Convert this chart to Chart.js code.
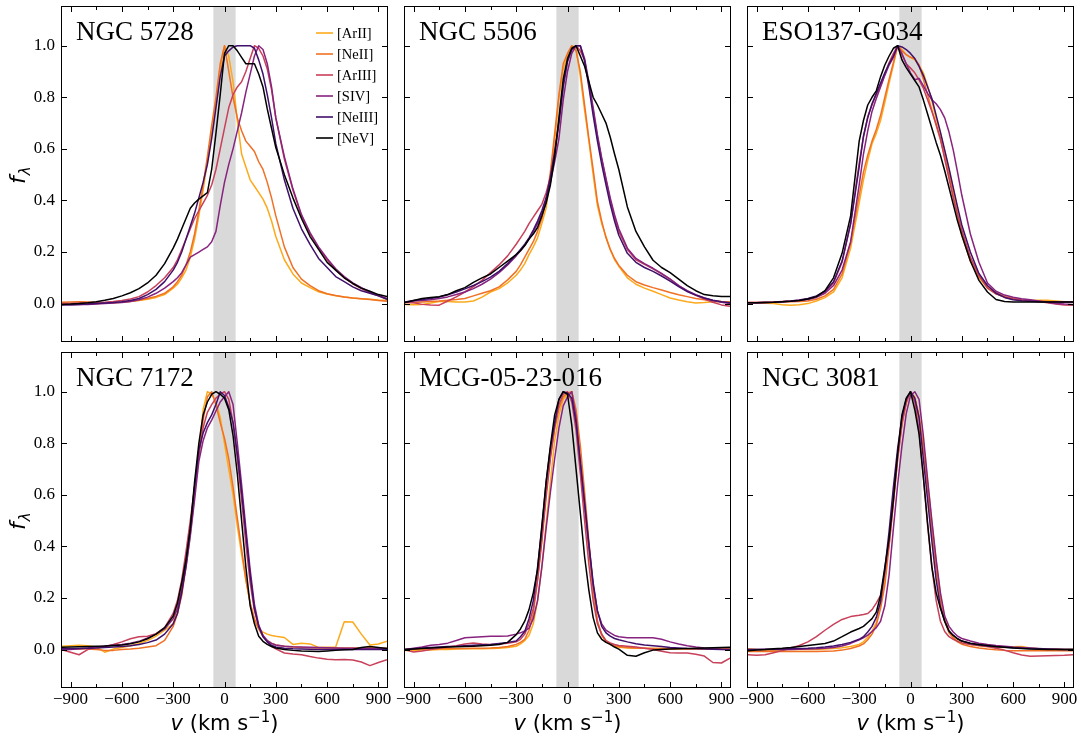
<!DOCTYPE html>
<html>
<head>
<meta charset="utf-8">
<script src="https://cdn.jsdelivr.net/npm/chart.js@4.4.0/dist/chart.umd.min.js"></script>
<style>
body { margin: 0; background: #fff; }
#fig { position: relative; width: 1081px; height: 737px; overflow: hidden; background: #fff; }
#fig canvas { position: absolute; }
</style>
</head>
<body>
<div id="fig"></div>
<script>
// velocity grid (km/s), shared by every panel
const velocity = [
    -950, -900, -850, -800, -750, -700, -650, -600, -550, -500, -450, -400, -350,
    -300, -275, -250, -225, -200, -175, -150, -125, -100, -75, -50, -25, 0, 25, 50, 75, 100, 125, 150, 175, 200, 225, 250, 275, 300,
    350, 400, 450, 500, 550, 600, 650, 700, 750, 800, 850, 900, 950
];

// NGC 5728
const n5728ArII = [
    0.000, -0.002, -0.002, -0.002, 0.000, 0.002, 0.003, 0.005, 0.008, 0.012, 0.017, 0.024, 0.035,
    0.06, 0.075, 0.10, 0.13, 0.18, 0.25, 0.34, 0.44, 0.55, 0.66, 0.77, 0.90, 1.00, 0.96, 0.86, 0.71, 0.58, 0.53, 0.48, 0.455, 0.43, 0.405, 0.37, 0.32, 0.26,
    0.17, 0.115, 0.08, 0.062, 0.046, 0.037, 0.03, 0.026, 0.022, 0.019, 0.017, 0.014, 0.012
];
const n5728NeII = [
    0.005, 0.006, 0.007, 0.006, 0.004, 0.003, 0.004, 0.006, 0.009, 0.013, 0.02, 0.028, 0.04,
    0.065, 0.085, 0.11, 0.15, 0.20, 0.27, 0.36, 0.46, 0.57, 0.69, 0.80, 0.93, 1.00, 0.90, 0.80, 0.72, 0.67, 0.63, 0.61, 0.59, 0.55, 0.52, 0.47, 0.41, 0.34,
    0.22, 0.14, 0.095, 0.07, 0.05, 0.038, 0.031, 0.026, 0.022, 0.019, 0.016, 0.012, 0.009
];
const n5728ArIII = [
    0.000, 0.000, 0.002, 0.002, 0.003, 0.005, 0.008, 0.012, 0.018, 0.027, 0.045, 0.07, 0.10,
    0.14, 0.17, 0.21, 0.25, 0.29, 0.33, 0.36, 0.39, 0.42, 0.46, 0.52, 0.60, 0.68, 0.76, 0.81, 0.84, 0.86, 0.90, 0.95, 1.00, 0.99, 0.96, 0.91, 0.83, 0.72,
    0.56, 0.44, 0.34, 0.27, 0.215, 0.17, 0.13, 0.10, 0.077, 0.058, 0.042, 0.03, 0.018
];
const n5728SIV = [
    -0.004, -0.004, -0.003, -0.003, -0.002, 0.000, 0.002, 0.004, 0.008, 0.015, 0.025, 0.04, 0.06,
    0.085, 0.10, 0.12, 0.15, 0.18, 0.19, 0.20, 0.21, 0.22, 0.24, 0.28, 0.38, 0.47, 0.54, 0.60, 0.67, 0.74, 0.82, 0.89, 0.96, 1.00, 0.985, 0.93, 0.84, 0.72,
    0.57, 0.445, 0.345, 0.275, 0.22, 0.175, 0.135, 0.105, 0.08, 0.062, 0.045, 0.032, 0.02
];
const n5728NeIII = [
    -0.004, -0.004, -0.003, -0.002, 0.000, 0.002, 0.004, 0.007, 0.012, 0.02, 0.035, 0.055, 0.085,
    0.13, 0.16, 0.20, 0.25, 0.30, 0.35, 0.41, 0.47, 0.54, 0.64, 0.76, 0.88, 0.96, 0.98, 0.995, 1.00, 1.00, 1.00, 1.00, 0.99, 0.945, 0.89, 0.81, 0.72, 0.62,
    0.48, 0.37, 0.29, 0.23, 0.175, 0.14, 0.105, 0.085, 0.065, 0.05, 0.04, 0.03, 0.017
];
const n5728NeV = [
    -0.003, -0.002, 0.000, 0.003, 0.007, 0.013, 0.02, 0.03, 0.042, 0.058, 0.08, 0.11, 0.155,
    0.215, 0.25, 0.29, 0.33, 0.37, 0.39, 0.405, 0.418, 0.43, 0.52, 0.66, 0.81, 0.97, 1.00, 1.00, 0.98, 0.955, 0.93, 0.93, 0.93, 0.89, 0.84, 0.755, 0.68, 0.605,
    0.50, 0.41, 0.33, 0.26, 0.21, 0.16, 0.13, 0.10, 0.078, 0.06, 0.048, 0.035, 0.027
];

// NGC 5506
const n5506ArII = [
    -0.003, -0.004, -0.003, 0.002, 0.008, 0.008, 0.006, 0.006, 0.01, 0.025, 0.045, 0.058, 0.08,
    0.11, 0.13, 0.155, 0.19, 0.22, 0.255, 0.31, 0.37, 0.49, 0.63, 0.80, 0.91, 0.96, 1.00, 0.99, 0.88, 0.75, 0.63, 0.50, 0.38, 0.31, 0.26, 0.21, 0.17, 0.145,
    0.10, 0.075, 0.06, 0.048, 0.035, 0.022, 0.014, 0.007, 0.002, 0.004, 0.007, 0.007, 0.006
];
const n5506NeII = [
    0.003, 0.004, 0.006, 0.008, 0.01, 0.013, 0.016, 0.02, 0.03, 0.04, 0.05, 0.065, 0.092,
    0.125, 0.15, 0.18, 0.21, 0.24, 0.28, 0.33, 0.40, 0.51, 0.66, 0.81, 0.93, 0.97, 1.00, 0.98, 0.90, 0.77, 0.64, 0.52, 0.395, 0.32, 0.255, 0.21, 0.175, 0.148,
    0.11, 0.085, 0.072, 0.062, 0.053, 0.043, 0.034, 0.027, 0.02, 0.015, 0.011, 0.008, 0.006
];
const n5506ArIII = [
    0.006, 0.003, -0.003, -0.005, -0.006, 0.01, 0.026, 0.045, 0.066, 0.09, 0.12, 0.15, 0.185,
    0.23, 0.255, 0.28, 0.31, 0.335, 0.36, 0.385, 0.43, 0.49, 0.58, 0.71, 0.85, 0.94, 0.985, 1.00, 0.98, 0.945, 0.85, 0.75, 0.645, 0.56, 0.48, 0.40, 0.335, 0.28,
    0.21, 0.17, 0.152, 0.135, 0.115, 0.095, 0.07, 0.048, 0.032, 0.018, 0.005, -0.005, -0.01
];
const n5506SIV = [
    0.004, 0.01, 0.012, 0.015, 0.02, 0.026, 0.035, 0.045, 0.058, 0.075, 0.095, 0.12, 0.15,
    0.185, 0.205, 0.225, 0.25, 0.28, 0.31, 0.35, 0.40, 0.47, 0.55, 0.64, 0.79, 0.90, 0.97, 1.00, 1.00, 0.95, 0.86, 0.76, 0.655, 0.565, 0.485, 0.41, 0.345, 0.29,
    0.215, 0.175, 0.155, 0.137, 0.117, 0.095, 0.07, 0.05, 0.035, 0.022, 0.012, 0.005, 0.0
];
const n5506NeIII = [
    0.006, 0.012, 0.016, 0.02, 0.026, 0.034, 0.045, 0.057, 0.07, 0.085, 0.103, 0.125, 0.155,
    0.19, 0.21, 0.23, 0.255, 0.285, 0.32, 0.36, 0.41, 0.49, 0.59, 0.70, 0.84, 0.94, 0.985, 1.00, 1.00, 0.94, 0.84, 0.73, 0.63, 0.54, 0.46, 0.385, 0.32, 0.265,
    0.195, 0.16, 0.14, 0.125, 0.107, 0.087, 0.066, 0.047, 0.033, 0.022, 0.013, 0.007, 0.003
];
const n5506NeV = [
    0.004, 0.012, 0.02, 0.024, 0.027, 0.035, 0.05, 0.062, 0.082, 0.10, 0.115, 0.14, 0.165,
    0.19, 0.205, 0.225, 0.25, 0.27, 0.295, 0.34, 0.39, 0.46, 0.57, 0.72, 0.87, 0.95, 0.99, 1.00, 0.96, 0.92, 0.86, 0.80, 0.77, 0.735, 0.70, 0.645, 0.58, 0.52,
    0.375, 0.28, 0.22, 0.168, 0.14, 0.12, 0.095, 0.07, 0.05, 0.035, 0.03, 0.028, 0.028
];

// ESO137-G034
const esoArII = [
    0.003, 0.002, 0.001, 0.0, -0.004, -0.006, -0.004, 0.0, 0.01, 0.023, 0.045, 0.10, 0.215,
    0.39, 0.48, 0.555, 0.62, 0.66, 0.71, 0.78, 0.855, 0.925, 1.00, 0.985, 0.965, 0.955, 0.945, 0.925, 0.895, 0.845, 0.785, 0.715, 0.66, 0.59, 0.515, 0.44, 0.36, 0.28,
    0.17, 0.10, 0.06, 0.038, 0.025, 0.017, 0.013, 0.012, 0.013, 0.013, 0.01, 0.007, 0.006
];
const esoNeII = [
    0.004, 0.004, 0.004, 0.005, 0.006, 0.007, 0.008, 0.01, 0.017, 0.03, 0.055, 0.115, 0.235,
    0.42, 0.51, 0.575, 0.63, 0.675, 0.73, 0.80, 0.87, 0.935, 1.00, 0.98, 0.965, 0.955, 0.95, 0.925, 0.87, 0.81, 0.75, 0.69, 0.635, 0.57, 0.50, 0.42, 0.34, 0.265,
    0.165, 0.105, 0.067, 0.042, 0.028, 0.02, 0.015, 0.012, 0.01, 0.008, 0.007, 0.006, 0.005
];
const esoArIII = [
    0.004, 0.004, 0.005, 0.006, 0.008, 0.01, 0.013, 0.018, 0.027, 0.045, 0.08, 0.16, 0.31,
    0.545, 0.645, 0.725, 0.77, 0.81, 0.845, 0.89, 0.935, 0.97, 1.00, 0.965, 0.93, 0.913, 0.895, 0.867, 0.835, 0.79, 0.745, 0.695, 0.64, 0.56, 0.485, 0.41, 0.345, 0.285,
    0.18, 0.11, 0.06, 0.038, 0.025, 0.018, 0.014, 0.012, 0.008, 0.003, -0.002, -0.005, -0.006
];
const esoSIV = [
    0.003, 0.003, 0.004, 0.005, 0.007, 0.009, 0.012, 0.016, 0.024, 0.04, 0.07, 0.13, 0.24,
    0.46, 0.58, 0.67, 0.745, 0.795, 0.84, 0.885, 0.925, 0.955, 1.00, 0.97, 0.93, 0.895, 0.868, 0.873, 0.845, 0.815, 0.79, 0.775, 0.752, 0.72, 0.665, 0.595, 0.51, 0.42,
    0.27, 0.16, 0.08, 0.048, 0.033, 0.025, 0.019, 0.015, 0.01, 0.005, 0.0, -0.002, -0.003
];
const esoNeIII = [
    0.003, 0.003, 0.004, 0.005, 0.007, 0.01, 0.014, 0.02, 0.03, 0.048, 0.085, 0.165, 0.31,
    0.53, 0.65, 0.72, 0.775, 0.815, 0.855, 0.895, 0.93, 0.96, 1.00, 0.995, 0.985, 0.97, 0.95, 0.92, 0.885, 0.84, 0.795, 0.73, 0.665, 0.595, 0.525, 0.45, 0.375, 0.305,
    0.2, 0.117, 0.07, 0.04, 0.024, 0.015, 0.011, 0.009, 0.007, 0.006, 0.006, 0.006, 0.006
];
const esoNeV = [
    0.003, 0.003, 0.004, 0.005, 0.007, 0.009, 0.012, 0.018, 0.027, 0.05, 0.10, 0.195, 0.34,
    0.63, 0.71, 0.77, 0.80, 0.825, 0.88, 0.925, 0.96, 0.99, 1.00, 0.945, 0.915, 0.89, 0.865, 0.84, 0.79, 0.735, 0.68, 0.625, 0.575, 0.515, 0.45, 0.385, 0.32, 0.265,
    0.165, 0.09, 0.045, 0.016, 0.008, 0.006, 0.006, 0.006, 0.006, 0.006, 0.006, 0.006, 0.006
];

// NGC 7172
const n7172ArII = [
    0.013, 0.015, 0.017, 0.015, 0.01, -0.01, 0.002, 0.008, 0.015, 0.024, 0.035, 0.052, 0.075,
    0.10, 0.16, 0.24, 0.36, 0.48, 0.62, 0.76, 0.93, 1.00, 0.99, 0.96, 0.90, 0.80, 0.70, 0.60, 0.48, 0.37, 0.27, 0.18, 0.11, 0.08, 0.068, 0.06, 0.055, 0.052,
    0.047, 0.02, 0.025, 0.022, 0.008, 0.009, 0.01, 0.108, 0.107, 0.06, 0.018, 0.022, 0.033
];
const n7172NeII = [
    0.003, 0.003, 0.002, 0.002, 0.0, -0.003, -0.003, 0.0, 0.002, 0.005, 0.01, 0.015, 0.036,
    0.09, 0.14, 0.21, 0.32, 0.45, 0.60, 0.77, 0.89, 0.98, 1.00, 0.95, 0.88, 0.82, 0.74, 0.63, 0.51, 0.39, 0.27, 0.18, 0.12, 0.08, 0.05, 0.035, 0.025, 0.018,
    0.013, 0.01, 0.008, 0.007, 0.006, 0.006, 0.006, 0.006, 0.006, 0.006, 0.006, 0.005, 0.005
];
const n7172ArIII = [
    0.0, -0.01, -0.02, 0.0, 0.008, 0.012, 0.02, 0.03, 0.042, 0.05, 0.052, 0.062, 0.085,
    0.14, 0.19, 0.27, 0.38, 0.50, 0.63, 0.75, 0.86, 0.92, 0.95, 0.975, 0.99, 1.00, 0.97, 0.88, 0.74, 0.58, 0.41, 0.26, 0.15, 0.09, 0.055, 0.03, 0.013, 0.003,
    -0.013, -0.017, -0.02, -0.027, -0.033, -0.037, -0.039, -0.038, -0.04, -0.048, -0.062, -0.05, -0.039
];
const n7172SIV = [
    -0.002, 0.0, 0.003, 0.006, 0.01, 0.014, 0.017, 0.02, 0.025, 0.032, 0.045, 0.06, 0.08,
    0.12, 0.16, 0.23, 0.32, 0.44, 0.58, 0.73, 0.81, 0.86, 0.89, 0.925, 0.96, 0.98, 1.00, 0.95, 0.80, 0.64, 0.47, 0.31, 0.175, 0.095, 0.055, 0.035, 0.024, 0.018,
    0.013, 0.011, 0.01, 0.009, 0.008, 0.007, 0.006, 0.005, 0.005, 0.004, 0.004, 0.004, 0.004
];
const n7172NeIII = [
    0.003, 0.003, 0.004, 0.005, 0.006, 0.008, 0.01, 0.012, 0.015, 0.02, 0.027, 0.037, 0.06,
    0.10, 0.14, 0.22, 0.33, 0.47, 0.63, 0.775, 0.84, 0.88, 0.91, 0.95, 1.00, 0.985, 0.94, 0.88, 0.76, 0.61, 0.45, 0.29, 0.16, 0.09, 0.05, 0.03, 0.017, 0.01,
    0.005, 0.003, 0.002, 0.001, 0.0, 0.0, 0.0, 0.0, 0.0, 0.0, 0.0, 0.0, 0.0
];
const n7172NeV = [
    0.009, 0.01, 0.011, 0.012, 0.013, 0.014, 0.016, 0.018, 0.023, 0.03, 0.042, 0.06, 0.085,
    0.13, 0.18, 0.26, 0.35, 0.47, 0.65, 0.80, 0.91, 0.96, 0.99, 1.00, 0.99, 0.975, 0.93, 0.83, 0.68, 0.50, 0.32, 0.17, 0.10, 0.052, 0.032, 0.02, 0.012, 0.006,
    0.0, -0.003, -0.005, -0.006, -0.007, -0.005, -0.003, -0.001, 0.0, 0.008, 0.012, 0.008, 0.004
];

// MCG-05-23-016
const mcgArII = [
    -0.003, -0.003, -0.002, -0.002, 0.0, 0.0, 0.002, 0.003, 0.003, 0.003, 0.004, 0.005, 0.008,
    0.013, 0.022, 0.035, 0.055, 0.10, 0.19, 0.32, 0.49, 0.65, 0.81, 0.91, 0.97, 0.99, 1.00, 0.92, 0.73, 0.55, 0.38, 0.215, 0.11, 0.06, 0.035, 0.02, 0.013, 0.009,
    0.006, 0.005, 0.005, 0.004, 0.004, 0.003, 0.003, 0.003, 0.003, 0.003, 0.003, 0.003, 0.003
];
const mcgNeII = [
    0.0, 0.001, 0.002, 0.003, 0.004, 0.004, 0.004, 0.004, 0.005, 0.005, 0.006, 0.008, 0.012,
    0.02, 0.028, 0.04, 0.075, 0.14, 0.27, 0.43, 0.61, 0.75, 0.86, 0.935, 0.98, 0.995, 1.00, 0.93, 0.79, 0.61, 0.42, 0.24, 0.11, 0.055, 0.03, 0.022, 0.015, 0.012,
    0.008, 0.006, 0.005, 0.004, 0.004, 0.003, 0.003, 0.002, 0.002, 0.002, 0.002, 0.002, 0.002
];
const mcgArIII = [
    0.0, -0.009, -0.005, 0.0, 0.005, 0.01, 0.015, 0.022, 0.026, 0.022, 0.02, 0.022, 0.025,
    0.03, 0.04, 0.06, 0.10, 0.16, 0.27, 0.42, 0.59, 0.74, 0.86, 0.95, 0.99, 1.00, 0.96, 0.85, 0.68, 0.50, 0.33, 0.19, 0.10, 0.06, 0.035, 0.026, 0.02, 0.016,
    0.013, 0.01, 0.005, 0.0, -0.006, -0.012, -0.013, -0.013, -0.018, -0.025, -0.05, -0.052, -0.033
];
const mcgSIV = [
    0.0, 0.005, 0.01, 0.017, 0.02, 0.025, 0.035, 0.046, 0.048, 0.05, 0.052, 0.052, 0.053,
    0.06, 0.065, 0.072, 0.083, 0.12, 0.19, 0.32, 0.47, 0.61, 0.74, 0.86, 0.945, 0.98, 1.00, 0.90, 0.72, 0.56, 0.40, 0.25, 0.15, 0.10, 0.075, 0.065, 0.055, 0.05,
    0.046, 0.046, 0.046, 0.046, 0.04, 0.03, 0.022, 0.015, 0.01, 0.006, 0.003, 0.001, 0.0
];
const mcgNeIII = [
    0.0, 0.003, 0.006, 0.008, 0.01, 0.012, 0.013, 0.015, 0.017, 0.019, 0.02, 0.024, 0.028,
    0.033, 0.05, 0.07, 0.12, 0.19, 0.32, 0.47, 0.65, 0.78, 0.88, 0.97, 1.00, 0.995, 0.975, 0.88, 0.73, 0.57, 0.41, 0.26, 0.15, 0.09, 0.065, 0.052, 0.043, 0.038,
    0.03, 0.023, 0.018, 0.015, 0.012, 0.008, 0.006, 0.004, 0.003, 0.002, 0.001, 0.0, 0.0
];
const mcgNeV = [
    0.0, 0.002, 0.004, 0.006, 0.008, 0.01, 0.011, 0.012, 0.013, 0.015, 0.017, 0.02, 0.028,
    0.058, 0.08, 0.11, 0.155, 0.22, 0.31, 0.48, 0.65, 0.79, 0.91, 0.97, 1.00, 0.99, 0.87, 0.70, 0.53, 0.36, 0.23, 0.124, 0.065, 0.04, 0.028, 0.02, 0.01, 0.002,
    -0.022, -0.026, -0.012, -0.002, 0.0, 0.002, 0.003, 0.004, 0.005, 0.006, 0.007, 0.008, 0.009
];

// NGC 3081
const n3081ArII = [
    0.003, 0.0, -0.004, -0.004, -0.002, 0.0, 0.0, 0.0, 0.0, 0.002, 0.004, 0.007, 0.012,
    0.02, 0.03, 0.048, 0.072, 0.105, 0.17, 0.27, 0.43, 0.60, 0.76, 0.88, 0.955, 1.00, 0.98, 0.91, 0.80, 0.65, 0.49, 0.34, 0.21, 0.12, 0.072, 0.048, 0.035, 0.027,
    0.02, 0.015, 0.011, 0.009, 0.008, 0.011, 0.012, 0.006, 0.003, 0.002, 0.001, 0.0, 0.0
];
const n3081NeII = [
    -0.007, -0.007, -0.007, -0.007, -0.007, -0.007, -0.007, -0.007, -0.007, -0.006, -0.005, -0.002, 0.004,
    0.014, 0.022, 0.038, 0.06, 0.095, 0.16, 0.25, 0.40, 0.57, 0.74, 0.87, 0.955, 1.00, 0.975, 0.90, 0.78, 0.62, 0.46, 0.31, 0.19, 0.11, 0.065, 0.045, 0.03, 0.021,
    0.012, 0.006, 0.002, -0.001, -0.003, -0.004, -0.004, -0.004, -0.004, -0.004, -0.004, -0.004, -0.004
];
const n3081ArIII = [
    -0.02, -0.022, -0.02, -0.012, -0.004, 0.005, 0.016, 0.03, 0.05, 0.075, 0.098, 0.117, 0.128,
    0.133, 0.136, 0.14, 0.155, 0.18, 0.21, 0.30, 0.41, 0.57, 0.74, 0.88, 0.96, 1.00, 0.96, 0.85, 0.67, 0.48, 0.32, 0.19, 0.11, 0.07, 0.05, 0.04, 0.032, 0.026,
    0.02, 0.016, 0.012, 0.005, -0.002, -0.012, -0.021, -0.026, -0.025, -0.024, -0.023, -0.022, -0.02
];
const n3081SIV = [
    0.0, 0.0, 0.0, 0.0, 0.0, 0.0, 0.001, 0.002, 0.003, 0.005, 0.008, 0.014, 0.024,
    0.038, 0.046, 0.056, 0.07, 0.085, 0.11, 0.17, 0.29, 0.47, 0.64, 0.79, 0.915, 0.985, 1.00, 0.97, 0.83, 0.66, 0.50, 0.35, 0.22, 0.13, 0.09, 0.068, 0.052, 0.043,
    0.033, 0.025, 0.02, 0.016, 0.013, 0.01, 0.008, 0.006, 0.004, 0.002, 0.001, 0.0, 0.0
];
const n3081NeIII = [
    0.0, 0.0, 0.001, 0.001, 0.002, 0.003, 0.004, 0.005, 0.007, 0.01, 0.014, 0.02, 0.028,
    0.04, 0.05, 0.068, 0.09, 0.125, 0.185, 0.31, 0.46, 0.63, 0.78, 0.90, 0.97, 1.00, 0.975, 0.90, 0.74, 0.58, 0.42, 0.27, 0.165, 0.11, 0.072, 0.055, 0.042, 0.033,
    0.024, 0.018, 0.014, 0.011, 0.009, 0.007, 0.005, 0.004, 0.003, 0.002, 0.001, 0.0, 0.0
];
const n3081NeV = [
    -0.004, -0.002, 0.0, 0.003, 0.005, 0.008, 0.012, 0.016, 0.02, 0.024, 0.033, 0.05, 0.068,
    0.082, 0.09, 0.105, 0.12, 0.145, 0.21, 0.32, 0.43, 0.58, 0.76, 0.91, 0.975, 1.00, 0.93, 0.835, 0.67, 0.49, 0.32, 0.22, 0.16, 0.11, 0.072, 0.055, 0.042, 0.033,
    0.025, 0.02, 0.016, 0.012, 0.009, 0.006, 0.004, 0.002, 0.001, 0.0, 0.0, 0.0, 0.0
];

const lineLabels = ["[ArII]", "[NeII]", "[ArIII]", "[SIV]", "[NeIII]", "[NeV]"];
const lineColors = ["#fcaa1c", "#f07024", "#c8405a", "#88237f", "#40106b", "#000000"];
const panelNames = ["NGC 5728", "NGC 5506", "ESO137-G034", "NGC 7172", "MCG-05-23-016", "NGC 3081"];
const xTicks = [-900, -600, -300, 0, 300, 600, 900];
const xMinorTicks = [-750, -450, -150, 150, 450, 750];
const yTicks = [0, 0.2, 0.4, 0.6, 0.8, 1.0];
const bandRange = [-65, 65];

const panelSeries = [
    [n5728ArII, n5728NeII, n5728ArIII, n5728SIV, n5728NeIII, n5728NeV],
    [n5506ArII, n5506NeII, n5506ArIII, n5506SIV, n5506NeIII, n5506NeV],
    [esoArII, esoNeII, esoArIII, esoSIV, esoNeIII, esoNeV],
    [n7172ArII, n7172NeII, n7172ArIII, n7172SIV, n7172NeIII, n7172NeV],
    [mcgArII, mcgNeII, mcgArIII, mcgSIV, mcgNeIII, mcgNeV],
    [n3081ArII, n3081NeII, n3081ArIII, n3081SIV, n3081NeIII, n3081NeV],
];

// layout of the 2x3 grid
const colLeft = [62, 405, 748];
const rowTop = [7, 353];
const plotW = 325, plotH = 334;
const padL = 62, padT = 7, padR = 10, padB = 50;

const fmtTick = v => (v < 0 ? "\u2212" + Math.abs(v) : String(v));

// stop tick labels from pushing the plot area around
function noScalePadding(s) {
    s.paddingTop = 0;
    s.paddingBottom = 0;
    s.paddingLeft = 0;
    s.paddingRight = 0;
}

function drawXTitle(ctx, a) {
    const parts = [
        { t: "v", font: 'italic 21px "DejaVu Sans"', dy: 0 },
        { t: " (km s", font: '21px "DejaVu Sans"', dy: 0 },
        { t: "\u22121", font: '15px "DejaVu Sans"', dy: -8 },
        { t: ")", font: '21px "DejaVu Sans"', dy: 0 },
    ];
    let total = 0;
    parts.forEach(p => { ctx.font = p.font; p.w = ctx.measureText(p.t).width; total += p.w; });
    let x = (a.left + a.right) / 2 - total / 2;
    const y = a.bottom + 43;
    ctx.textAlign = "left";
    ctx.textBaseline = "alphabetic";
    parts.forEach(p => { ctx.font = p.font; ctx.fillText(p.t, x, y + p.dy); x += p.w; });
}

function drawYTitle(ctx, a) {
    ctx.save();
    ctx.translate(25, a.top + 177);
    ctx.rotate(-Math.PI / 2);
    ctx.textAlign = "left";
    ctx.textBaseline = "alphabetic";
    ctx.font = 'italic 22px "DejaVu Sans"';
    ctx.fillText("f", 0, 0);
    const w = ctx.measureText("f").width;
    ctx.font = 'italic 15px "DejaVu Sans"';
    ctx.fillText("\u03bb", w + 1, 5);
    ctx.restore();
}

const panelDecor = {
    id: "panelDecor",
    beforeDatasetsDraw(chart) {
        const { ctx, chartArea: a, scales: { x } } = chart;
        const x0 = x.getPixelForValue(bandRange[0]);
        const x1 = x.getPixelForValue(bandRange[1]);
        ctx.save();
        ctx.fillStyle = "#d9d9d9";
        ctx.fillRect(x0, a.top, x1 - x0, a.bottom - a.top);
        ctx.restore();
    },
    afterDraw(chart, args, opts) {
        const { ctx, chartArea: a, scales: { x, y } } = chart;
        ctx.save();
        ctx.strokeStyle = "#000";
        ctx.fillStyle = "#000";
        ctx.lineWidth = 1;
        ctx.strokeRect(a.left - 0.5, a.top - 0.5, a.right - a.left + 1, a.bottom - a.top + 1);

        // inward ticks on all four sides
        ctx.beginPath();
        const xt = xTicks.map(v => [v, 5]).concat(xMinorTicks.map(v => [v, 3]));
        xt.forEach(([v, len]) => {
            const px = Math.round(x.getPixelForValue(v)) + 0.5;
            ctx.moveTo(px, a.bottom); ctx.lineTo(px, a.bottom - len);
            ctx.moveTo(px, a.top); ctx.lineTo(px, a.top + len);
        });
        yTicks.forEach(v => {
            const py = Math.round(y.getPixelForValue(v)) + 0.5;
            ctx.moveTo(a.left, py); ctx.lineTo(a.left + 5, py);
            ctx.moveTo(a.right, py); ctx.lineTo(a.right - 5, py);
        });
        ctx.stroke();

        // panel name
        ctx.font = '27px "Liberation Serif"';
        ctx.textAlign = "left";
        ctx.textBaseline = "alphabetic";
        ctx.fillText(opts.title, a.left + 14, a.top + 33);

        if (opts.legend) {
            ctx.font = '14.5px "Liberation Serif"';
            ctx.textBaseline = "middle";
            lineLabels.forEach((lab, i) => {
                const ly = a.top + 26 + 21 * i;
                ctx.strokeStyle = lineColors[i];
                ctx.lineWidth = 1.6;
                ctx.beginPath();
                ctx.moveTo(a.left + 254, ly); ctx.lineTo(a.left + 271, ly);
                ctx.stroke();
                ctx.fillStyle = "#000";
                ctx.fillText(lab, a.left + 275, ly + 1);
            });
        }
        ctx.fillStyle = "#000";
        if (opts.xTitle) drawXTitle(ctx, a);
        if (opts.yTitle) drawYTitle(ctx, a);
        ctx.restore();
    }
};

const fig = document.getElementById("fig");
const tickFont = { family: "Liberation Serif", size: 17 };

panelNames.forEach((name, idx) => {
    const col = idx % 3, row = Math.floor(idx / 3);
    const cw = plotW + padL + padR, ch = plotH + padT + padB;
    const canvas = document.createElement("canvas");
    canvas.width = cw;
    canvas.height = ch;
    canvas.style.width = cw + "px";
    canvas.style.height = ch + "px";
    canvas.style.left = (colLeft[col] - padL) + "px";
    canvas.style.top = (rowTop[row] - padT) + "px";
    fig.appendChild(canvas);

    const datasets = panelSeries[idx].map((vals, i) => ({
        label: lineLabels[i],
        data: velocity.map((v, k) => ({ x: v, y: vals[k] })),
        borderColor: lineColors[i],
        borderWidth: 1.5,
        borderJoinStyle: "round",
        pointRadius: 0,
        fill: false,
        tension: 0,
        order: 5 - i
    }));

    new Chart(canvas, {
        type: "line",
        data: { datasets },
        options: {
            responsive: false,
            animation: false,
            devicePixelRatio: 1,
            layout: { padding: { top: padT, left: 0, right: padR, bottom: 0 } },
            plugins: {
                legend: { display: false },
                tooltip: { enabled: false },
                panelDecor: { title: name, legend: idx === 0, xTitle: row === 1, yTitle: col === 0 }
            },
            scales: {
                x: {
                    type: "linear",
                    min: -950,
                    max: 950,
                    grid: { display: false, drawTicks: false },
                    border: { display: false },
                    afterBuildTicks: s => { s.ticks = xTicks.map(v => ({ value: v })); },
                    afterFit: s => { s.height = padB; noScalePadding(s); },
                    ticks: {
                        display: row === 1,
                        autoSkip: false,
                        maxRotation: 0,
                        padding: 2,
                        color: "#000",
                        font: tickFont,
                        callback: v => fmtTick(v)
                    }
                },
                y: {
                    min: -0.145,
                    max: 1.15,
                    grid: { display: false, drawTicks: false },
                    border: { display: false },
                    afterBuildTicks: s => { s.ticks = yTicks.map(v => ({ value: v })); },
                    afterFit: s => { s.width = padL; noScalePadding(s); },
                    ticks: {
                        display: col === 0,
                        padding: 7,
                        color: "#000",
                        font: tickFont,
                        callback: v => v.toFixed(1)
                    }
                }
            }
        },
        plugins: [panelDecor]
    });
});
</script>
</body>
</html>
